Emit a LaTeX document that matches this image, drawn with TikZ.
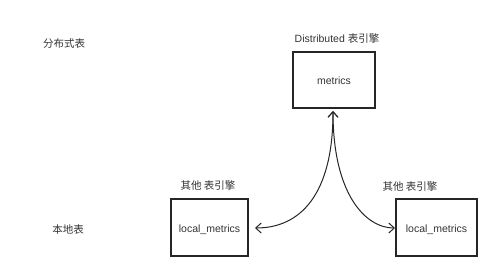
\documentclass[tikz,border=0pt]{standalone}
\usepackage{fontspec}
\setmainfont{Liberation Sans}
\newfontfamily\cjk{Noto Sans CJK SC}
\usetikzlibrary{arrows.meta}
\definecolor{txt}{HTML}{333333}
\begin{document}
\begin{tikzpicture}[x=1pt,y=-1pt,
  box/.style={draw=black!85,line width=1.1pt,inner sep=0pt},
  lbl/.style={text=txt,font=\fontsize{10.5}{12}\selectfont,inner sep=0pt},
  conn/.style={line width=1pt,draw=black!85,{Straight Barb[length=5.5pt,width=10pt,line width=1pt]}-{Straight Barb[length=5.5pt,width=10pt,line width=1pt]}}]
\useasboundingbox (0,0) rectangle (498,277);
\node[box,minimum width=82pt,minimum height=56pt] (top) at (334,80) {};
\node[lbl] (topt) at (334,81) {metrics};
\node[lbl] (topl) at (337,38) {Distributed {\cjk 表引擎}};
\node[box,minimum width=77pt,minimum height=57pt] (left) at (209.5,227.5) {};
\node[lbl] (leftt) at (209.5,229.5) {local\_metrics};
\node[lbl] (leftl) at (208,185) {\cjk 其他 表引擎};
\node[box,minimum width=81pt,minimum height=57pt] (right) at (436.5,227.5) {};
\node[lbl] (rightt) at (436.5,229.5) {local\_metrics};
\node[lbl] (rightl) at (410,186) {\cjk 其他 表引擎};
\node[lbl] (dist) at (64,44) {\cjk 分布式表};
\node[lbl] (loc) at (68,230) {\cjk 本地表};
\coordinate (ta) at (333,111);
\coordinate (la) at (255,228);
\coordinate (ra) at (395,228);
\draw[conn] (ta) .. controls (333,195) and (300,228) .. (la);
\draw[conn] (ta) .. controls (333,195) and (366,228) .. (ra);
\end{tikzpicture}
\end{document}
